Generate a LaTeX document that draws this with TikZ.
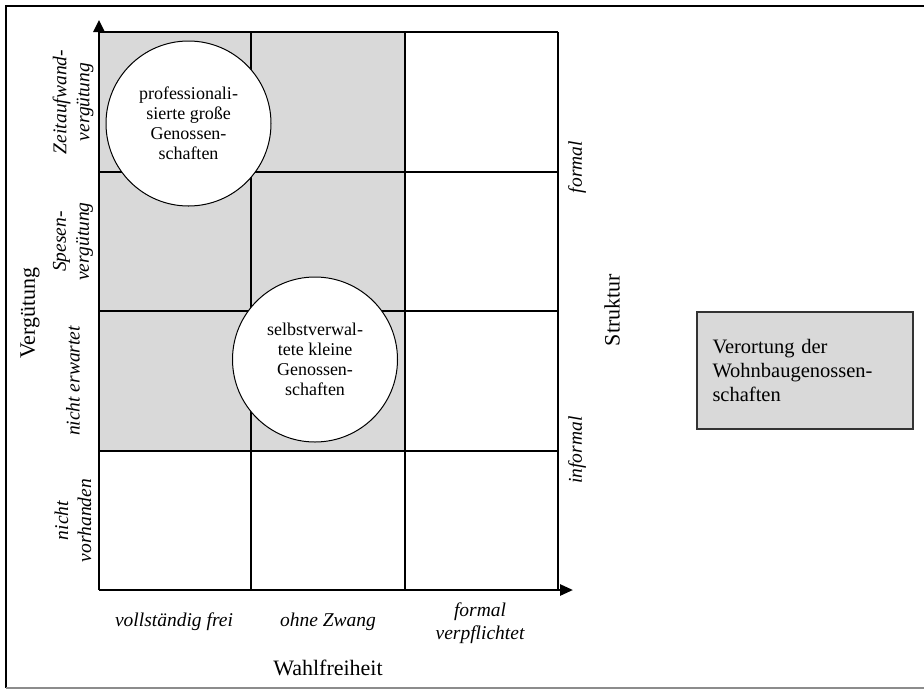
\documentclass[tikz,border=0pt]{standalone}
\usepackage{fontspec}
\setmainfont{Liberation Serif}
\usetikzlibrary{arrows.meta}
\definecolor{cellgray}{RGB}{217,217,217}
\begin{document}
\begin{tikzpicture}[x=1pt,y=-1pt,
  gridline/.style={line width=2.6pt},
  axisline/.style={line width=2.6pt},
  axislbl/.style={font=\fontsize{22}{25}\selectfont},
  catlbl/.style={font=\fontsize{19.5}{23}\selectfont\itshape, align=center, inner sep=0pt},
  bubble/.style={circle, draw, line width=1pt, fill=white, minimum size=165pt, inner sep=0pt, align=center, font=\fontsize{18}{20}\selectfont},
  legendbox/.style={draw=black!80, line width=1.2pt, fill=cellgray, text width=185pt, inner xsep=15.5pt, minimum height=117pt, align=left, font=\fontsize{20.5}{24}\selectfont}
]
\useasboundingbox (0,0) rectangle (924,689);
\fill[white] (0,0) rectangle (924,689);
% outer frame
\draw[line width=1.5pt] (924,6) -- (6,6) -- (6,688);
\draw[line width=1.5pt, black!45] (6,688) -- (924,688);
% gray cells
\fill[cellgray] (99,32) rectangle (405,451);
% grid
\foreach \yy in {32,172,311,451} \draw[gridline] (99,\yy) -- (558,\yy);
\foreach \xx in {251,405,558} \draw[gridline] (\xx,32) -- (\xx,590);
% axes
\coordinate (O) at (99,590);
\coordinate (Ytip) at (99,20);
\coordinate (Xtip) at (573,590);
\draw[axisline, -{Triangle[length=12pt,width=11pt]}] (O) -- (Ytip);
\draw[axisline, -{Triangle[length=13pt,width=11pt]}] (O) -- (Xtip);
% bubbles
\node[bubble] (big) at (188.5,123.5) {professionali-\\sierte große\\Genossen-\\schaften};
\node[bubble] (small) at (315,359.5) {selbstverwal-\\tete kleine\\Genossen-\\schaften};
% row labels
\node[catlbl, rotate=90] (r1) at (73,102) {Zeitaufwand-\\vergütung};
\node[catlbl, rotate=90] (r2) at (73,241.5) {Spesen-\\vergütung};
\node[catlbl, rotate=90] (r3) at (73,381) {nicht erwartet};
\node[catlbl, rotate=90] (r4) at (73,520.5) {nicht\\vorhanden};
% column labels
\node[catlbl] (c1) at (174,622) {vollständig frei};
\node[catlbl] (c2) at (328,622) {ohne Zwang};
\node[catlbl] (c3) at (480,623) {formal\\verpflichtet};
% structure labels
\node[catlbl, rotate=90] (sf) at (577,167) {formal};
\node[catlbl, rotate=90] (si) at (577,450) {informal};
% axis labels
\node[axislbl] (xl) at (328,668) {Wahlfreiheit};
\node[axislbl, rotate=90] (yl) at (30,313) {Vergütung};
\node[axislbl, rotate=90] (sl) at (612,310) {Struktur};
% legend
\node[legendbox] (leg) at (805,370.5) {Verortung der\\Wohnbaugenossen-\\schaften};
\end{tikzpicture}
\end{document}
